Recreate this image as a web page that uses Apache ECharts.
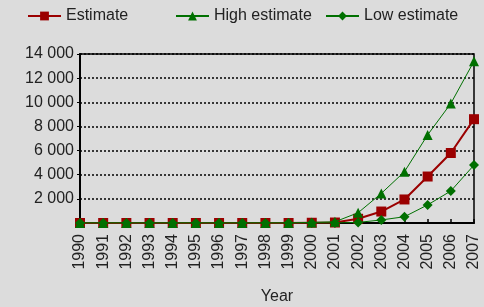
<!DOCTYPE html>
<html>
<head>
<meta charset="utf-8">
<script src="https://cdn.jsdelivr.net/npm/echarts@6/dist/echarts.min.js"></script>
<style>
  html, body { margin: 0; padding: 0; background: #dcdcdc; }
  #chart { width: 484px; height: 307px; }
</style>
</head>
<body>
<div id="chart"></div>
<script>
var years = ['1990', '1991', '1992', '1993', '1994', '1995', '1996', '1997', '1998',
    '1999', '2000', '2001', '2002', '2003', '2004', '2005', '2006', '2007'];
var estimate = [0, 0, 0, 0, 0, 0, 0, 0, 0, 0, 20, 40, 350, 950, 1950, 3850, 5800, 8600];
var highEstimate = [0, 0, 0, 0, 0, 0, 0, 0, 0, 0, 50, 100, 850, 2450, 4250, 7300, 9900, 13400];
var lowEstimate = [0, 0, 0, 0, 0, 0, 0, 0, 0, 0, 0, 0, 50, 250, 520, 1500, 2650, 4800];

var red = '#9b0000';
var green = '#007000';

function fmt(v) {
    if (v === 0) return '';
    return String(v).replace(/\B(?=(\d{3})+(?!\d))/g, ' ');
}

// one legend per entry, the original spaces them unevenly
function legendAt(name, left) {
    return {
        top: 3,
        left: left,
        itemWidth: 33,
        itemHeight: 11,
        itemGap: 5,
        textStyle: { fontSize: 16, color: '#222' },
        data: [name]
    };
}

var chart = echarts.init(document.getElementById('chart'));

chart.setOption({
    backgroundColor: '#dcdcdc',
    animation: false,
    textStyle: { fontFamily: 'Liberation Sans, Arial, sans-serif', color: '#222' },
    legend: [
        legendAt('Estimate', 22),
        legendAt('High estimate', 170),
        legendAt('Low estimate', 320)
    ],
    grid: {
        left: 80,
        right: 10,
        top: 54,
        bottom: 84,
        outerBoundsMode: 'none',
        containLabel: false,
        show: true,
        borderColor: '#000',
        borderWidth: 1.5,
        backgroundColor: 'transparent'
    },
    xAxis: {
        type: 'category',
        data: years,
        boundaryGap: false,
        name: 'Year',
        nameLocation: 'middle',
        nameGap: 66,
        nameTextStyle: { fontSize: 16, color: '#222' },
        axisLine: { lineStyle: { color: '#000', width: 2 } },
        axisTick: { inside: true, length: 4, lineStyle: { color: '#000', width: 1.5 } },
        axisLabel: { rotate: 90, fontSize: 16, color: '#222', margin: 11, interval: 0 },
        splitLine: { show: false }
    },
    yAxis: {
        type: 'value',
        min: 0,
        max: 14000,
        interval: 2000,
        axisLine: { show: true, lineStyle: { color: '#000', width: 2 } },
        axisTick: { show: true, length: 3, lineStyle: { color: '#000' } },
        axisLabel: { fontSize: 16, color: '#222', margin: 6, formatter: fmt },
        splitLine: { lineStyle: { color: '#000', type: [2, 2], width: 1.5 } }
    },
    series: [
        {
            name: 'Estimate',
            type: 'line',
            data: estimate,
            symbol: 'rect',
            symbolSize: 10,
            itemStyle: { color: red },
            lineStyle: { color: red, width: 2 },
            z: 2
        },
        {
            name: 'Low estimate',
            type: 'line',
            data: lowEstimate,
            symbol: 'diamond',
            symbolSize: 10,
            itemStyle: { color: green },
            lineStyle: { color: green, width: 1 },
            z: 3
        },
        {
            name: 'High estimate',
            type: 'line',
            data: highEstimate,
            symbol: 'triangle',
            symbolSize: 10,
            itemStyle: { color: green },
            lineStyle: { color: green, width: 1 },
            z: 4
        }
    ]
});
</script>
</body>
</html>
